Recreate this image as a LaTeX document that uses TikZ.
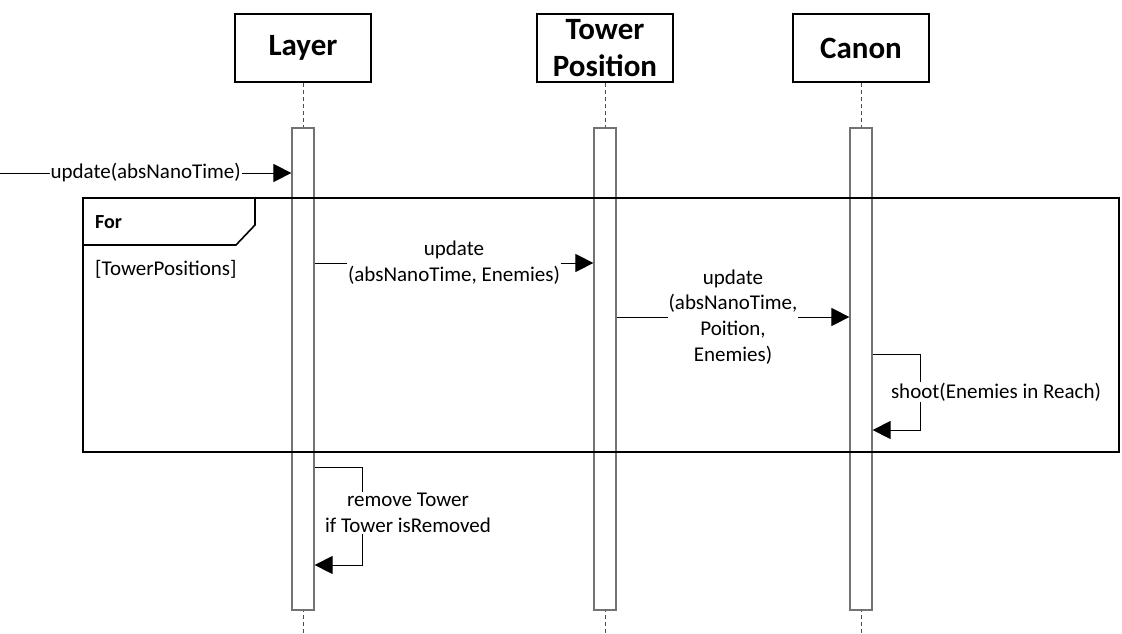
\documentclass[tikz,border=0pt]{standalone}
\usepackage{fontspec}
\setmainfont{Carlito}
\usetikzlibrary{arrows.meta,calc}
\begin{document}
\begin{tikzpicture}[x=1pt,y=-1pt,
  head/.style={draw,line width=1.6pt,minimum width=136pt,minimum height=68pt,
    font=\bfseries\fontsize{31}{37}\selectfont,align=center,inner sep=0pt},
  actbar/.style={draw=black!55,line width=1.2pt,fill=white,minimum width=22pt,
    minimum height=482pt,inner sep=0pt},
  life/.style={draw=black!70,line width=0.7pt,dash pattern=on 4pt off 3pt},
  msg/.style={line width=0.9pt,-{Triangle[length=18pt,width=18pt]}},
  lbl/.style={fill=white,inner sep=1pt,align=center,font=\fontsize{21}{25.7}\selectfont},
  frameline/.style={line width=1.6pt},
  ftext/.style={anchor=west,inner sep=0pt,font=\fontsize{21}{25.7}\selectfont}]
\useasboundingbox (0,0) rectangle (1122,634);
% headers
\node[head] (hL) at (303,48) {Layer};
\node[head] (hT) at (605,48) {Tower\\Position};
\node[head] (hC) at (861,48) {Canon};
% lifeline ends
\coordinate (eL) at (303,634);
\coordinate (eT) at (605,634);
\coordinate (eC) at (861,634);
\draw[life] (hL.south) -- (eL);
\draw[life] (hT.south) -- (eT);
\draw[life] (hC.south) -- (eC);
% activation bars
\node[actbar] (bL) at (303,369) {};
\node[actbar] (bT) at (605,369) {};
\node[actbar] (bC) at (861,369) {};
% frame
\node[draw,frameline,minimum width=1036pt,minimum height=254pt,inner sep=0pt] (frm) at (601,325) {};
\coordinate (t1) at (255,198);
\coordinate (t2) at (255,225);
\coordinate (t3) at (236,245);
\coordinate (t4) at (83,245);
\draw[frameline] (t1) -- (t2) -- (t3) -- (t4);
\node[ftext,font=\bfseries\fontsize{20}{24}\selectfont] (fortxt) at (95,222) {For};
\node[ftext] (guard) at (95,269) {[TowerPositions]};
% y levels
\coordinate (m1) at (0,173);
\coordinate (y2) at (0,263);
\coordinate (y3) at (0,317);
\coordinate (y4) at (0,354);
\coordinate (y5) at (0,430);
\coordinate (y6) at (0,467);
\coordinate (y7) at (0,565);
% messages
\draw[msg] (m1) -- (m1 -| bL.west) node[lbl,midway] (l1) {update(absNanoTime)};
\draw[msg] (bL.east |- y2) -- (bT.west |- y2) node[lbl,midway] (l2) {update\\(absNanoTime, Enemies)};
\draw[msg] (bT.east |- y3) -- (bC.west |- y3) node[lbl,midway] (l3) {update\\(absNanoTime,\\Poition,\\Enemies)};
\draw[msg] (bC.east |- y4) -- ++(48,0) -- ++(0,76) -- (bC.east |- y5);
\node[lbl] (l4) at (996,392) {shoot(Enemies in Reach)};
\draw[msg] (bL.east |- y6) -- ++(48,0) -- ++(0,98) -- (bL.east |- y7);
\node[lbl] (l5) at (408,513) {remove Tower\\if Tower isRemoved};
\end{tikzpicture}
\end{document}
